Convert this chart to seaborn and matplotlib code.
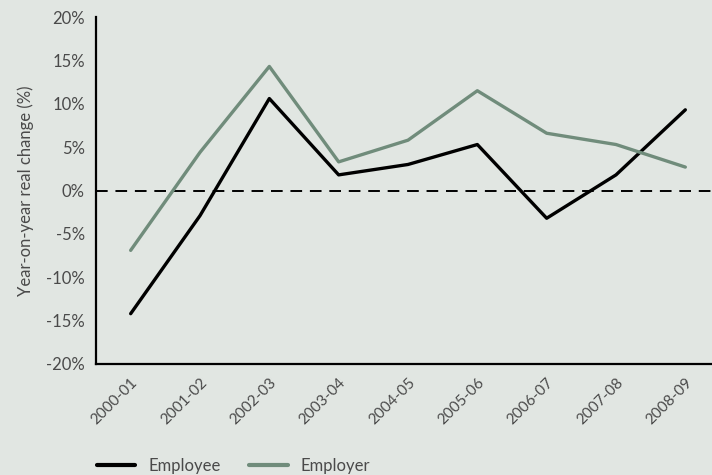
import pandas as pd
import matplotlib.pyplot as plt
import seaborn as sns

# values (%)
years = ['2000-01', '2001-02', '2002-03', '2003-04', '2004-05',
         '2005-06', '2006-07', '2007-08', '2008-09']
employee = [-14.2, -2.9, 10.6, 1.8, 3.0, 5.3, -3.2, 1.8, 9.3]
employer = [-6.9, 4.4, 14.3, 3.3, 5.8, 11.5, 6.6, 5.3, 2.7]

bg = '#e1e6e2'
green = '#708c7b'
txt = '#4a4a4a'

df = pd.DataFrame({'pos': list(range(len(years))) * 2,
                   'value': employee + employer,
                   'series': ['Employee'] * len(years) + ['Employer'] * len(years)})

sns.set_style('white')
plt.rcParams['font.family'] = ['Lato', 'DejaVu Sans']

fig = plt.figure(figsize=(7.12, 4.75), dpi=100, facecolor=bg)
ax = fig.add_axes([96 / 712, 111 / 475, 624 / 712, 347 / 475])
ax.set_facecolor(bg)

sns.lineplot(data=df, x='pos', y='value', hue='series',
             palette={'Employee': 'black', 'Employer': green},
             linewidth=2.4, ax=ax, legend=False)
ax.axhline(0, color='black', lw=1.4, dashes=(6, 4), zorder=1)

ax.set_xlim(-0.5, len(years) - 0.5)
ax.set_ylim(-20, 20)
ax.set_yticks(range(-20, 21, 5))
ax.set_yticklabels([f'{v}%' for v in range(-20, 21, 5)])
ax.set_xticks(range(len(years)))
ax.set_xticklabels(years, rotation=45, ha='right', rotation_mode='anchor')
ax.set_xticks([i - 0.5 for i in range(len(years) + 1)], minor=True)
ax.tick_params(axis='x', which='major', length=0, pad=8, labelsize=11, colors=txt)
ax.tick_params(axis='x', which='minor', length=5, width=1, color='#888888')
ax.tick_params(axis='y', length=5, width=1, color='#888888', labelsize=12,
               labelcolor=txt, pad=3)
for lab in ax.get_xticklabels():
    lab.set_color(txt)

ax.set_xlabel('')
ax.set_ylabel('Year-on-year real change (%)', fontsize=12, color=txt, labelpad=9)

for s in ['top', 'right']:
    ax.spines[s].set_visible(False)
for s in ['left', 'bottom']:
    ax.spines[s].set_color('black')
    ax.spines[s].set_linewidth(1.6)

handles = [plt.Line2D([], [], color='black', lw=3),
           plt.Line2D([], [], color=green, lw=3)]
fig.legend(handles, ['Employee', 'Employer'], loc='lower left',
           bbox_to_anchor=(0.115, -0.03), ncol=2, frameon=False,
           handlelength=2.3, columnspacing=1.7, handletextpad=0.8,
           prop={'size': 12}, labelcolor=txt)

fig.savefig('out.png', dpi=100, facecolor=bg)
